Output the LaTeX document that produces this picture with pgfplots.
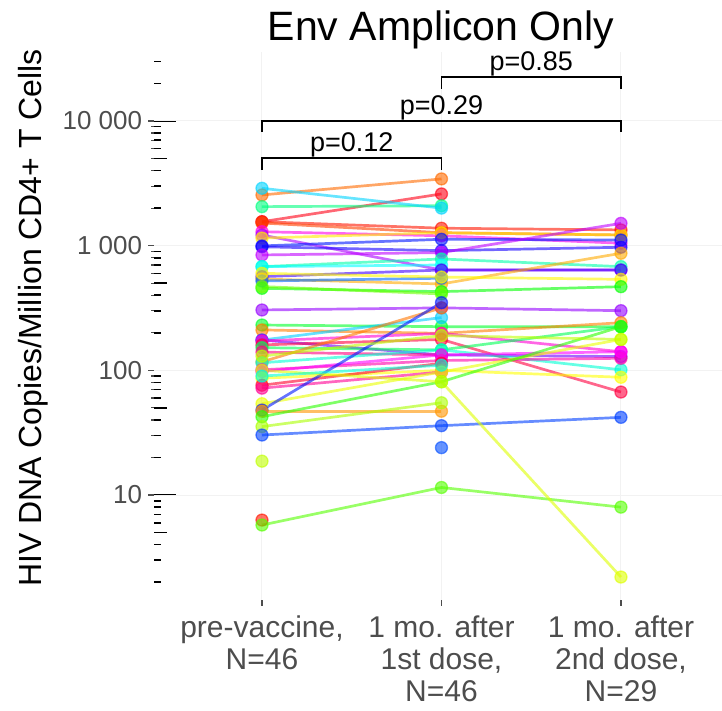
\documentclass[border=0pt]{standalone}
\usepackage[rgb]{xcolor}
\usepackage{pgfplots}
\pgfplotsset{compat=1.18}
\usepackage{fontspec}
\setmainfont{Liberation Sans}
\definecolor{tickgrey}{HTML}{4D4D4D}
\definecolor{c1}{Hsb}{25,1,1}
\definecolor{c2}{Hsb}{355,1,1}
\definecolor{c3}{Hsb}{150,1,1}
\definecolor{c4}{Hsb}{5,1,1}
\definecolor{c5}{Hsb}{15,1,1}
\definecolor{c6}{Hsb}{190,1,1}
\definecolor{c7}{Hsb}{305,1,1}
\definecolor{c8}{Hsb}{280,1,1}
\definecolor{c9}{Hsb}{55,1,1}
\definecolor{c10}{Hsb}{235,1,1}
\definecolor{c11}{Hsb}{245,1,1}
\definecolor{c12}{Hsb}{285,1,1}
\definecolor{c13}{Hsb}{160,1,1}
\definecolor{c14}{Hsb}{180,1,1}
\definecolor{c15}{Hsb}{255,1,1}
\definecolor{c16}{Hsb}{40,1,1}
\definecolor{c17}{Hsb}{215,1,1}
\definecolor{c18}{Hsb}{120,1,1}
\definecolor{c19}{Hsb}{275,1,1}
\definecolor{c20}{Hsb}{130,1,1}
\definecolor{c21}{Hsb}{30,1,1}
\definecolor{c22}{Hsb}{192,1,1}
\definecolor{c23}{Hsb}{265,1,1}
\definecolor{c24}{Hsb}{310,1,1}
\definecolor{c25}{Hsb}{345,1,1}
\definecolor{c26}{Hsb}{140,1,1}
\definecolor{c27}{Hsb}{330,1,1}
\definecolor{c28}{Hsb}{28,1,1}
\definecolor{c29}{Hsb}{170,1,1}
\definecolor{c30}{Hsb}{320,1,1}
\definecolor{c31}{Hsb}{300,1,1}
\definecolor{c32}{Hsb}{60,1,1}
\definecolor{c33}{Hsb}{350,1,1}
\definecolor{c34}{Hsb}{325,1,1}
\definecolor{c35}{Hsb}{65,1,1}
\definecolor{c36}{Hsb}{235,1,1}
\definecolor{c37}{Hsb}{35,1,1}
\definecolor{c38}{Hsb}{110,1,1}
\definecolor{c39}{Hsb}{80,1,1}
\definecolor{c40}{Hsb}{225,1,1}
\definecolor{c41}{Hsb}{75,1,1}
\definecolor{c42}{Hsb}{5,1,1}
\definecolor{c43}{Hsb}{100,1,1}
\definecolor{c44}{Hsb}{68,1,1}
\definecolor{c45}{Hsb}{170,1,1}
\definecolor{c46}{Hsb}{75,1,1}
\definecolor{c47}{Hsb}{222,1,1}
\definecolor{c48}{Hsb}{58,1,1}
\definecolor{c49}{Hsb}{95,1,1}
\newcommand{\subj}[2]{\addplot[color=#1, line width=2.7pt, opacity=0.6, mark=*, mark size=6pt, mark options={solid, line width=1.3pt}] coordinates {#2};}
\begin{document}
\begin{tikzpicture}[x=1pt,y=1pt]
\useasboundingbox (0,0) rectangle (722,711);
% inside log ticks
\begin{axis}[
  at={(154.3pt,111pt)}, anchor=south west,
  scale only axis, width=567.7pt, height=547.6pt,
  xmin=-0.6, xmax=2.563,
  ymode=log, ymin=1.44, ymax=35481,
  axis line style={draw=none},
  xtick=\empty,
  ytick={10,100,1000,10000}, yticklabels={},
  ytick pos=left,
  tick align=inside,
  major tick length=22pt, minor tick length=7pt,
  minor ytick={2,3,4,6,7,8,9,20,30,40,60,70,80,90,200,300,400,600,700,800,900,2000,3000,4000,6000,7000,8000,9000,20000,30000},
  extra y ticks={5,50,500,5000},
  extra y tick labels={},
  extra y tick style={major tick length=13pt},
  every tick/.style={black, line width=1.6pt},
]
\end{axis}
\begin{axis}[
  at={(154.3pt,111pt)}, anchor=south west,
  scale only axis, width=567.7pt, height=547.6pt,
  xmin=-0.6, xmax=2.563,
  ymode=log, ymin=1.44, ymax=35481,
  axis line style={draw=none},
  clip=false,
  xtick={0,1,2},
  xticklabels={{pre-vaccine,\\N=46},{1 mo. after\\1st dose,\\N=46},{1 mo. after\\2nd dose,\\N=29}},
  xticklabel style={align=center, font=\fontsize{30}{32}\selectfont, text=tickgrey, anchor=north, yshift=-6pt},
  ytick={10,100,1000,10000},
  yticklabels={10,100,1 000,10 000},
  yticklabel style={font=\fontsize{26}{30}\selectfont, text=tickgrey, inner sep=0pt, xshift=-6pt},
  ytick pos=left, xtick pos=bottom,
  tick align=outside,
  major tick length=6pt,
  every tick/.style={tickgrey, line width=1.2pt},
  xmajorgrids, ymajorgrids,
  major grid style={color=black!5, line width=1pt},
]
\subj{c1}{(0,2550)(1,3430)}
\subj{c2}{(0,1556)(1,2600)}
\subj{c3}{(0,2055)(1,2090)}
\subj{c6}{(0,2885)(1,2000)}
\subj{c4}{(0,1556)(1,1380)(2,1337)}
\subj{c5}{(0,1520)(1,1270)(2,1218)}
\subj{c7}{(0,1294)(1,1200)(2,1046)}
\subj{c8}{(0,1218)(1,638)(2,638)}
\subj{c9}{(0,1150)(1,1270)(2,1218)}
\subj{c10}{(0,995)(1,1125)(2,1110)}
\subj{c11}{(0,980)(1,912)(2,971)}
\subj{c12}{(0,842)(1,880)(2,1510)}
\subj{c13}{(0,679)(1,782)(2,679)}
\subj{c14}{(0,679)(1,700)}
\subj{c15}{(0,564)(1,638)(2,638)}
\subj{c16}{(0,540)(1,493)(2,869)}
\subj{c17}{(0,521)(1,548)}
\subj{c48}{(0,600)(1,560)(2,537)}
\subj{c18}{(0,455)(1,428)(2,469)}
\subj{c49}{(0,470)(1,410)}
\subj{c19}{(0,305)(1,317)(2,301)}
\subj{c20}{(0,231)(1,224)(2,224)}
\subj{c21}{(0,211)(1,198)(2,241)}
\subj{c22}{(0,175)(1,265)}
\subj{c23}{(0,175)(1,133)(2,129)}
\subj{c24}{(0,172)(1,198)(2,141)}
\subj{c25}{(0,160)(1,177)(2,67)}
\subj{c26}{(0,152)(1,146)(2,224)}
\subj{c27}{(0,140)(1,133)}
\subj{c28}{(0,117)(1,317)}
\subj{c29}{(0,115)(1,146)(2,101)}
\subj{c30}{(0,101)(1,120)(2,125)}
\subj{c31}{(0,98)(1,133)(2,141)}
\subj{c32}{(0,86.5)(1,100)(2,88)}
\subj{c33}{(0,76)(1,114)}
\subj{c34}{(0,72)(1,97)}
\subj{c35}{(0,54)(1,97)(2,177)}
\subj{c36}{(0,48)(1,349)}
\subj{c37}{(0,47)(1,47)}
\subj{c38}{(0,42.5)(1,81)(2,224)}
\subj{c39}{(0,35.4)(1,55)}
\subj{c40}{(0,30.3)(1,36)(2,42)}
\subj{c41}{(0,18.7)}
\subj{c42}{(0,6.3)}
\subj{c43}{(0,5.75)(1,11.5)(2,8)}
\subj{c44}{(0,100)(1,81)(2,2.2)}
\subj{c45}{(0,90)(1,110)}
\subj{c46}{(0,130)(1,190)(2,177)}
\subj{c47}{(1,24)}
% significance brackets
\draw[black, line width=1.3pt] (axis cs:0,4046) -- (axis cs:0,5050) -- (axis cs:1,5050) -- (axis cs:1,4046);
\node[anchor=south, font=\fontsize{27}{30}\selectfont, inner sep=1pt] at (axis cs:0.5,5050) {p=0.12};
\draw[black, line width=1.3pt] (axis cs:0,8160) -- (axis cs:0,10000) -- (axis cs:2,10000) -- (axis cs:2,8160);
\node[anchor=south, font=\fontsize{27}{30}\selectfont, inner sep=1pt] at (axis cs:1,10000) {p=0.29};
\draw[black, line width=1.3pt] (axis cs:1,18070) -- (axis cs:1,22540) -- (axis cs:2,22540) -- (axis cs:2,18070);
\node[anchor=south, font=\fontsize{27}{30}\selectfont, inner sep=1pt] at (axis cs:1.5,22540) {p=0.85};
\end{axis}
\node[font=\fontsize{41}{46}\selectfont] at (441,681) {Env Amplicon Only};
\node[rotate=90, font=\fontsize{32}{36}\selectfont] at (33,393) {HIV DNA Copies/Million CD4+ T Cells};
\end{tikzpicture}
\end{document}
